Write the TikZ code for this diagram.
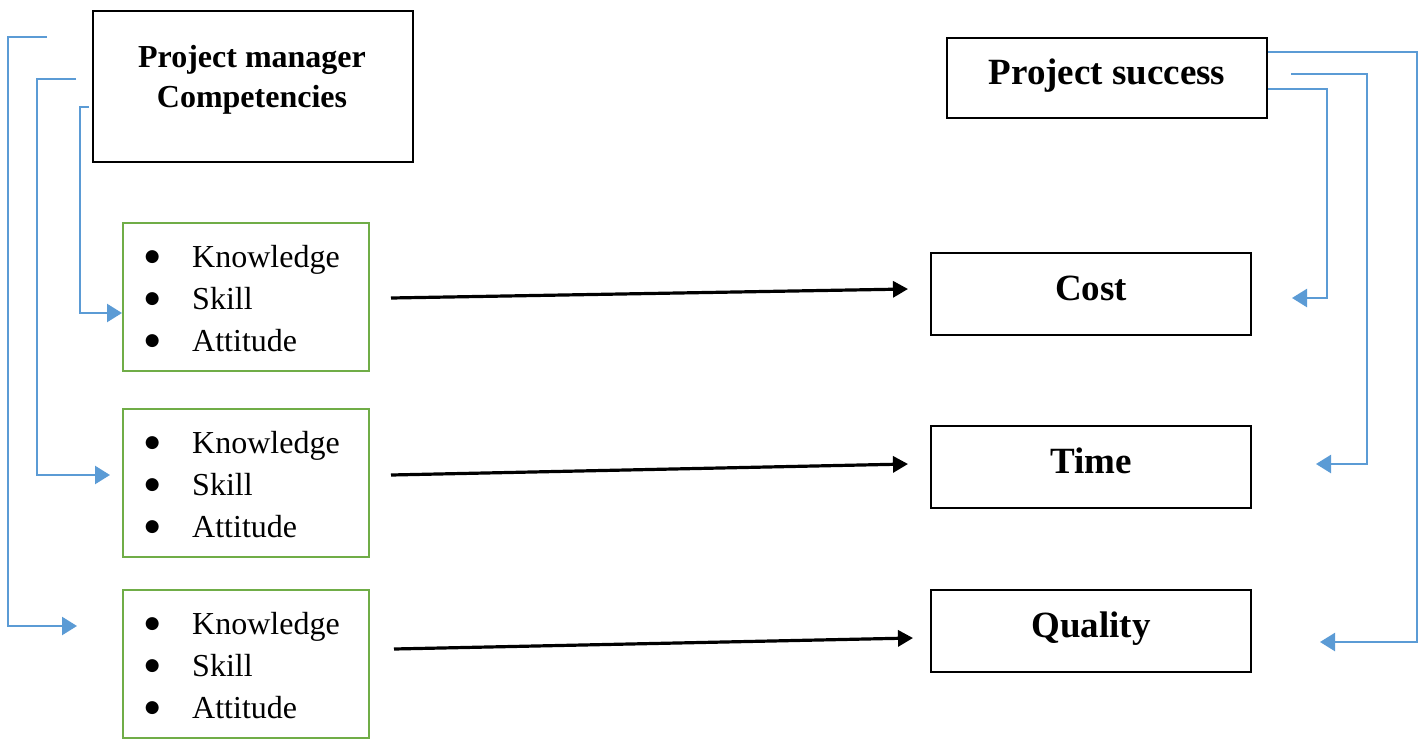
\documentclass[tikz,border=0pt]{standalone}
\usepackage{fontspec}
\setmainfont{Liberation Serif}
\newfontfamily\symfont{DejaVu Sans}
\usetikzlibrary{arrows.meta,positioning}
\definecolor{linkblue}{HTML}{5B9BD5}
\definecolor{listgreen}{HTML}{70AD47}
\tikzset{
    headbox/.style={draw=black, line width=1.2pt, minimum width=160pt, inner sep=0pt,
        font=\fontsize{18.5}{22}\selectfont\bfseries, text depth=6pt},
    listbox/.style={draw=listgreen, line width=1.1pt, minimum width=123pt, minimum height=74pt,
        inner sep=0pt, font=\fontsize{16}{21}\selectfont},
    bluelink/.style={draw=linkblue, line width=1.2pt, -{Triangle[length=7.5pt,width=9pt]}},
    blacklink/.style={draw=black, line width=1.6pt, -{Triangle[length=7.5pt,width=8pt]}}
}
\newcommand{\ksbullet}{\makebox[5.5pt][c]{\raisebox{3pt}{\fontsize{8.5}{8.5}\selectfont\symfont ●}}}
\newcommand{\kslist}{%
    \raisebox{-2pt}[\height][\depth]{\begin{tabular}{@{}l@{\hspace{17.25pt}}l@{\hspace{2.75pt}}}
    \ksbullet & Knowledge\\
    \ksbullet & Skill\\
    \ksbullet & Attitude
    \end{tabular}}}

\begin{document}
\begin{tikzpicture}[x=0.5pt, y=-0.5pt]
    \useasboundingbox (0,0) rectangle (1421,740);
    % boxes
    \node[headbox, minimum height=75.5pt] (pm) at (253,86.5) {};
    \node[font=\fontsize{16}{20}\selectfont\bfseries, align=center] (pmtext) at (252,80)
        {Project manager\\Competencies};
    \node[headbox, minimum height=40pt] (ps) at (1107,78) {Project success};
    \node[listbox] (list1) at (246,297) {\kslist};
    \node[listbox] (list2) at (246,483) {\kslist};
    \node[listbox] (list3) at (246,664) {\kslist};
    \node[headbox, minimum height=41pt] (cost) at (1091,294) {Cost};
    \node[headbox, minimum height=41pt] (time) at (1091,467) {Time};
    \node[headbox, minimum height=41pt] (quality) at (1091,631) {Quality};
    % arrow ends
    \coordinate (a1s) at (391,298);
    \coordinate (a1e) at (908,289);
    \coordinate (a2s) at (391,475);
    \coordinate (a2e) at (908,464);
    \coordinate (a3s) at (394,649);
    \coordinate (a3e) at (913,638);
    \coordinate (l1s) at (47,37);
    \coordinate (l1e) at (77,626);
    \coordinate (l2s) at (76,79);
    \coordinate (l2e) at (110,475);
    \coordinate (l3s) at (89,107);
    \coordinate (l3e) at (122,313);
    \coordinate (rAe) at (1320,642);
    \coordinate (rBs) at (1291,74);
    \coordinate (rBe) at (1316,464);
    \coordinate (rCe) at (1292,298);
    % competencies to success
    \draw[blacklink] (a1s) -- (a1e);
    \draw[blacklink] (a2s) -- (a2e);
    \draw[blacklink] (a3s) -- (a3e);
    % left brackets
    \draw[bluelink] (l1s) -- ++(-39,0) |- (l1e);
    \draw[bluelink] (l2s) -- ++(-39,0) |- (l2e);
    \draw[bluelink] (l3s) -- ++(-9,0) |- (l3e);
    % right brackets
    \draw[bluelink] ([yshift=13pt]ps.east) -- ++(149,0) |- (rAe);
    \draw[bluelink] (rBs) -- ++(76,0) |- (rBe);
    \draw[bluelink] ([yshift=-5.5pt]ps.east) -- ++(59,0) |- (rCe);
\end{tikzpicture}
\end{document}
